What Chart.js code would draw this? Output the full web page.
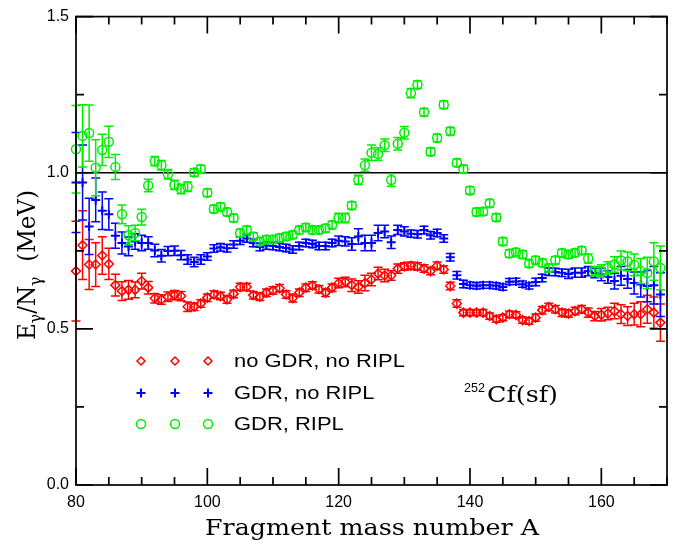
<!DOCTYPE html>
<html>
<head>
<meta charset="utf-8">
<script src="https://cdn.jsdelivr.net/npm/chart.js@4.4.0/dist/chart.umd.min.js"></script>
<style>
html, body { margin: 0; padding: 0; background: #fff; }
canvas { display: block; }
</style>
</head>
<body>
<canvas id="gammaChart" width="685" height="547"></canvas>
<script>
// mass numbers of the fission fragments
const massNumbers = [
    80, 81, 82, 83, 84, 85, 86, 87, 88, 89,
    90, 91, 92, 93, 94, 95, 96, 97, 98, 99,
    100, 101, 102, 103, 104, 105, 106, 107, 108, 109,
    110, 111, 112, 113, 114, 115, 116, 117, 118, 119,
    120, 121, 122, 123, 124, 125, 126, 127, 128, 129,
    130, 131, 132, 133, 134, 135, 136, 137, 138, 139,
    140, 141, 142, 143, 144, 145, 146, 147, 148, 149,
    150, 151, 152, 153, 154, 155, 156, 157, 158, 159,
    160, 161, 162, 163, 164, 165, 166, 167, 168, 169
];

// no GDR, no RIPL (red)
const noGdrNoRipl = [
    0.685, 0.768, 0.706, 0.706, 0.735, 0.708, 0.640, 0.621, 0.625, 0.625,
    0.653, 0.632, 0.598, 0.594, 0.603, 0.608, 0.605, 0.571, 0.571, 0.581,
    0.600, 0.610, 0.605, 0.594, 0.612, 0.634, 0.634, 0.608, 0.603, 0.616,
    0.623, 0.630, 0.610, 0.598, 0.616, 0.632, 0.639, 0.627, 0.616, 0.632,
    0.647, 0.650, 0.640, 0.634, 0.647, 0.658, 0.677, 0.671, 0.671, 0.693,
    0.700, 0.702, 0.700, 0.693, 0.685, 0.702, 0.690, 0.637, 0.581, 0.552,
    0.552, 0.552, 0.552, 0.541, 0.531, 0.536, 0.547, 0.545, 0.528, 0.525,
    0.536, 0.560, 0.570, 0.563, 0.552, 0.549, 0.557, 0.563, 0.552, 0.541,
    0.545, 0.549, 0.557, 0.547, 0.541, 0.547, 0.547, 0.563, 0.552, 0.520
];
const noGdrNoRiplErr = [
    0.16, 0.11, 0.08, 0.07, 0.06, 0.05, 0.035, 0.03, 0.03, 0.025,
    0.025, 0.02, 0.015, 0.015, 0.015, 0.015, 0.015, 0.015, 0.012, 0.012,
    0.012, 0.012, 0.012, 0.012, 0.012, 0.012, 0.012, 0.012, 0.012, 0.012,
    0.012, 0.012, 0.012, 0.012, 0.012, 0.012, 0.012, 0.012, 0.012, 0.012,
    0.015, 0.015, 0.02, 0.02, 0.025, 0.02, 0.02, 0.02, 0.015, 0.015,
    0.012, 0.012, 0.012, 0.012, 0.012, 0.012, 0.012, 0.012, 0.012, 0.01,
    0.01, 0.01, 0.01, 0.01, 0.01, 0.01, 0.01, 0.01, 0.01, 0.01,
    0.012, 0.012, 0.012, 0.012, 0.012, 0.012, 0.012, 0.012, 0.015, 0.015,
    0.02, 0.02, 0.025, 0.03, 0.03, 0.035, 0.04, 0.045, 0.05, 0.06
];

// GDR, no RIPL (blue)
const gdrNoRipl = [
    0.969, 0.969, 0.828, 0.913, 0.878, 0.867, 0.798, 0.775, 0.764, 0.780,
    0.775, 0.775, 0.751, 0.734, 0.749, 0.750, 0.736, 0.722, 0.714, 0.722,
    0.732, 0.757, 0.761, 0.758, 0.770, 0.782, 0.789, 0.775, 0.762, 0.767,
    0.765, 0.762, 0.759, 0.754, 0.765, 0.775, 0.772, 0.765, 0.765, 0.775,
    0.782, 0.780, 0.772, 0.796, 0.775, 0.775, 0.807, 0.812, 0.777, 0.817,
    0.812, 0.805, 0.803, 0.817, 0.800, 0.807, 0.789, 0.729, 0.672, 0.644,
    0.640, 0.638, 0.640, 0.640, 0.638, 0.634, 0.651, 0.652, 0.643, 0.638,
    0.650, 0.663, 0.683, 0.682, 0.680, 0.676, 0.680, 0.680, 0.685, 0.679,
    0.674, 0.666, 0.653, 0.670, 0.660, 0.647, 0.642, 0.637, 0.640, 0.610
];
const gdrNoRiplErr = [
    0.16, 0.12, 0.09, 0.07, 0.06, 0.05, 0.04, 0.035, 0.03, 0.025,
    0.025, 0.02, 0.02, 0.02, 0.015, 0.015, 0.015, 0.015, 0.015, 0.015,
    0.012, 0.012, 0.012, 0.012, 0.012, 0.012, 0.012, 0.012, 0.012, 0.012,
    0.012, 0.012, 0.012, 0.012, 0.012, 0.012, 0.012, 0.012, 0.012, 0.012,
    0.015, 0.015, 0.02, 0.025, 0.025, 0.025, 0.025, 0.02, 0.02, 0.015,
    0.015, 0.012, 0.012, 0.012, 0.012, 0.012, 0.012, 0.012, 0.012, 0.012,
    0.01, 0.01, 0.01, 0.01, 0.01, 0.01, 0.01, 0.01, 0.01, 0.01,
    0.012, 0.012, 0.012, 0.012, 0.012, 0.015, 0.015, 0.015, 0.015, 0.015,
    0.02, 0.02, 0.025, 0.03, 0.03, 0.035, 0.04, 0.05, 0.06, 0.07
];

// GDR, RIPL (green)
const gdrRipl = [
    1.075, 1.118, 1.127, 1.016, 1.073, 1.099, 1.018, 0.867, 0.800, 0.807,
    0.858, 0.959, 1.037, 1.024, 0.995, 0.961, 0.948, 0.955, 1.001, 1.012,
    0.936, 0.884, 0.891, 0.874, 0.855, 0.807, 0.817, 0.796, 0.780, 0.786,
    0.786, 0.791, 0.796, 0.801, 0.817, 0.825, 0.817, 0.817, 0.822, 0.833,
    0.855, 0.855, 0.895, 0.977, 1.024, 1.064, 1.060, 1.088, 0.977, 1.093,
    1.128, 1.255, 1.282, 1.194, 1.067, 1.111, 1.218, 1.133, 1.032, 1.012,
    0.943, 0.874, 0.876, 0.902, 0.857, 0.780, 0.741, 0.745, 0.738, 0.709,
    0.720, 0.712, 0.695, 0.720, 0.743, 0.738, 0.744, 0.751, 0.725, 0.685,
    0.685, 0.695, 0.706, 0.719, 0.716, 0.705, 0.685, 0.679, 0.716, 0.695
];
const gdrRiplErr = [
    0.14, 0.10, 0.09, 0.09, 0.05, 0.05, 0.04, 0.03, 0.03, 0.025,
    0.025, 0.02, 0.015, 0.015, 0.015, 0.015, 0.015, 0.015, 0.012, 0.012,
    0.012, 0.012, 0.012, 0.012, 0.012, 0.012, 0.012, 0.012, 0.012, 0.012,
    0.012, 0.012, 0.012, 0.012, 0.012, 0.012, 0.012, 0.012, 0.012, 0.012,
    0.015, 0.015, 0.012, 0.015, 0.02, 0.025, 0.02, 0.02, 0.02, 0.02,
    0.02, 0.015, 0.012, 0.012, 0.012, 0.012, 0.012, 0.012, 0.012, 0.012,
    0.012, 0.012, 0.012, 0.012, 0.012, 0.012, 0.012, 0.012, 0.012, 0.012,
    0.012, 0.012, 0.012, 0.012, 0.012, 0.012, 0.012, 0.012, 0.015, 0.015,
    0.02, 0.02, 0.025, 0.03, 0.03, 0.035, 0.04, 0.05, 0.06, 0.07
];

const xTicks = [80, 100, 120, 140, 160];
const yTicks = [0, 0.5, 1.0, 1.5];
const legendLabels = ['no GDR, no RIPL', 'GDR, no RIPL', 'GDR, RIPL'];

const RED = '#ff0000';
const BLUE = '#0000ff';
const GREEN = '#00ee00';

function toPoints(values) {
    return massNumbers.map((a, i) => ({ x: a, y: values[i] }));
}

// draw text stretched to a given width
function fitText(ctx, text, x, y, width) {
    const w = ctx.measureText(text).width;
    ctx.save();
    ctx.translate(x, y);
    ctx.scale(width / w, 1);
    ctx.fillText(text, 0, 0);
    ctx.restore();
}

const errorBars = {
    id: 'errorBars',
    beforeDatasetDraw(chart, args) {
        const ds = chart.data.datasets[args.index];
        if (!ds.errors) return;
        const yScale = chart.scales.y;
        const ctx = chart.ctx;
        const cap = 4.5;
        ctx.save();
        ctx.strokeStyle = ds.borderColor;
        ctx.lineWidth = 1.5;
        ctx.beginPath();
        args.meta.data.forEach((pt, i) => {
            const v = ds.data[i].y;
            const e = ds.errors[i];
            const yTop = yScale.getPixelForValue(v + e);
            const yBot = yScale.getPixelForValue(v - e);
            ctx.moveTo(pt.x, yTop);
            ctx.lineTo(pt.x, yBot);
            ctx.moveTo(pt.x - cap, yTop);
            ctx.lineTo(pt.x + cap, yTop);
            ctx.moveTo(pt.x - cap, yBot);
            ctx.lineTo(pt.x + cap, yBot);
        });
        ctx.stroke();
        ctx.restore();
    }
};

const frame = {
    id: 'frame',
    beforeDatasetsDraw(chart) {
        const { ctx, chartArea: a, scales } = chart;
        // reference line at 1.0
        ctx.save();
        ctx.strokeStyle = '#000';
        ctx.lineWidth = 1.5;
        const y1 = scales.y.getPixelForValue(1.0);
        ctx.beginPath();
        ctx.moveTo(a.left, y1);
        ctx.lineTo(a.right, y1);
        ctx.stroke();
        ctx.restore();
    },
    afterDraw(chart) {
        const { ctx, chartArea: a, scales } = chart;
        ctx.save();
        ctx.strokeStyle = '#000';
        ctx.lineWidth = 1.7;
        ctx.strokeRect(a.left, a.top, a.right - a.left, a.bottom - a.top);
        ctx.beginPath();
        for (let v = 80; v <= 170; v += 5) {
            const x = scales.x.getPixelForValue(v);
            const len = xTicks.includes(v) ? 17 : 8;
            ctx.moveTo(x, a.bottom);
            ctx.lineTo(x, a.bottom - len);
            ctx.moveTo(x, a.top);
            ctx.lineTo(x, a.top + len);
        }
        for (let v = 0; v <= 1.5; v += 0.25) {
            const y = scales.y.getPixelForValue(v);
            const len = yTicks.includes(v) ? 17 : 8;
            ctx.moveTo(a.left, y);
            ctx.lineTo(a.left + len, y);
            ctx.moveTo(a.right, y);
            ctx.lineTo(a.right - len, y);
        }
        ctx.stroke();

        ctx.fillStyle = '#000';
        ctx.textBaseline = 'alphabetic';

        // x axis title
        ctx.font = '23px "DejaVu Serif"';
        fitText(ctx, 'Fragment mass number A', 205, 535, 334);

        // y axis title, rotated
        ctx.save();
        ctx.translate(35, 265);
        ctx.rotate(-Math.PI / 2);
        const parts = [
            { t: 'E', f: '25px "DejaVu Serif"', dy: 0 },
            { t: 'γ', f: '17px "DejaVu Serif"', dy: 6 },
            { t: '/N', f: '25px "DejaVu Serif"', dy: 0 },
            { t: 'γ', f: '17px "DejaVu Serif"', dy: 6 },
            { t: '  (MeV)', f: '25px "DejaVu Serif"', dy: 0 }
        ];
        let total = 0;
        parts.forEach(p => { ctx.font = p.f; p.w = ctx.measureText(p.t).width; total += p.w; });
        const sx = 150 / total;
        ctx.scale(sx, 1);
        let cx = -total / 2;
        parts.forEach(p => {
            ctx.font = p.f;
            ctx.fillText(p.t, cx, p.dy);
            cx += p.w;
        });
        ctx.restore();

        // 252Cf(sf) annotation
        ctx.font = '13px "Liberation Sans"';
        fitText(ctx, '252', 464, 392, 21);
        ctx.font = '22px "DejaVu Serif"';
        fitText(ctx, 'Cf(sf)', 487, 402, 71);

        // legend
        const rows = [
            { color: RED, style: 'rectRot', radius: 4, bw: 1.5, y: 361 },
            { color: BLUE, style: 'cross', radius: 4.5, bw: 2, y: 393 },
            { color: GREEN, style: 'circle', radius: 4.5, bw: 1.5, y: 424 }
        ];
        rows.forEach((r, i) => {
            ctx.strokeStyle = r.color;
            ctx.fillStyle = 'rgba(0,0,0,0)';
            ctx.lineWidth = r.bw;
            [141, 175, 208].forEach(x => {
                Chart.helpers.drawPoint(ctx, { pointStyle: r.style, radius: r.radius, borderWidth: r.bw, rotation: 0 }, x, r.y);
            });
            ctx.fillStyle = '#000';
            ctx.font = '18px "Liberation Sans"';
            ctx.textBaseline = 'middle';
            const w = ctx.measureText(legendLabels[i]).width;
            fitText(ctx, legendLabels[i], 234, r.y + 1, w * 1.22);
        });
        ctx.restore();
    }
};

const ctx = document.getElementById('gammaChart');
new Chart(ctx, {
    type: 'scatter',
    data: {
        datasets: [
            {
                label: legendLabels[0],
                data: toPoints(noGdrNoRipl),
                errors: noGdrNoRiplErr,
                borderColor: RED,
                backgroundColor: 'rgba(0,0,0,0)',
                pointStyle: 'rectRot',
                pointRadius: 4.5,
                pointBorderWidth: 1.5,
                order: 3,
                clip: false
            },
            {
                label: legendLabels[1],
                data: toPoints(gdrNoRipl),
                errors: gdrNoRiplErr,
                borderColor: BLUE,
                backgroundColor: 'rgba(0,0,0,0)',
                pointStyle: 'cross',
                pointRadius: 4.5,
                pointBorderWidth: 2,
                order: 2,
                clip: false
            },
            {
                label: legendLabels[2],
                data: toPoints(gdrRipl),
                errors: gdrRiplErr,
                borderColor: GREEN,
                backgroundColor: 'rgba(0,0,0,0)',
                pointStyle: 'circle',
                pointRadius: 4.5,
                pointBorderWidth: 1.5,
                order: 1,
                clip: false
            }
        ]
    },
    options: {
        responsive: false,
        animation: false,
        layout: {
            autoPadding: false,
            padding: { top: 14, right: 18, left: 0, bottom: 0 }
        },
        plugins: {
            legend: { display: false },
            tooltip: { enabled: false }
        },
        scales: {
            x: {
                type: 'linear',
                min: 80,
                max: 170,
                grid: { display: false, drawTicks: false },
                border: { display: false },
                afterBuildTicks: s => { s.ticks = xTicks.map(v => ({ value: v })); },
                afterFit: s => { s.height = 62; },
                ticks: {
                    padding: 8,
                    color: '#000',
                    font: { family: 'Liberation Sans', size: 16 },
                    maxRotation: 0,
                    callback: v => String(v)
                }
            },
            y: {
                type: 'linear',
                min: 0,
                max: 1.5,
                grid: { display: false, drawTicks: false },
                border: { display: false },
                afterBuildTicks: s => { s.ticks = yTicks.map(v => ({ value: v })); },
                afterFit: s => { s.width = 76; },
                ticks: {
                    padding: 7,
                    color: '#000',
                    font: { family: 'Liberation Sans', size: 16 },
                    callback: v => v.toFixed(1)
                }
            }
        }
    },
    plugins: [errorBars, frame]
});
</script>
</body>
</html>
